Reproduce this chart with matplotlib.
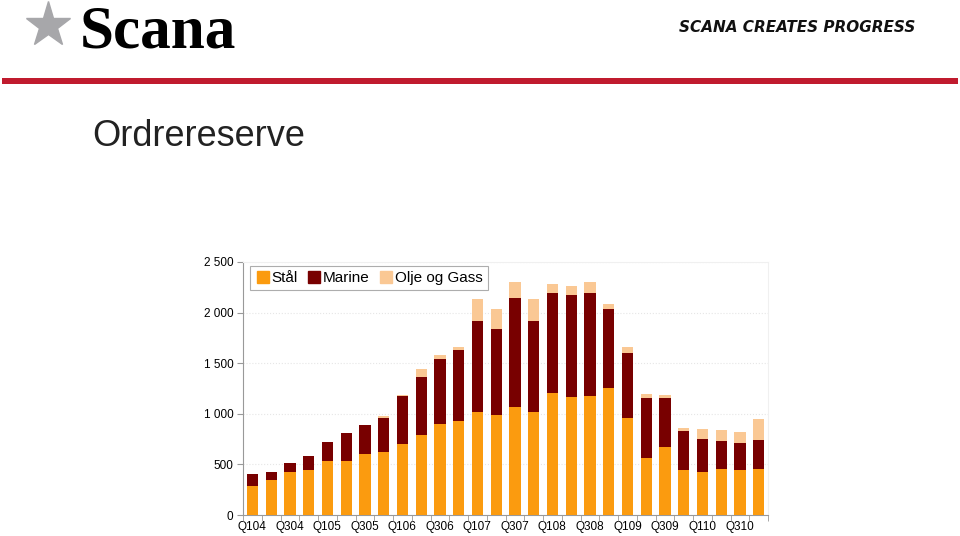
import numpy as np
import matplotlib.pyplot as plt
from matplotlib.lines import Line2D
from matplotlib.patches import Rectangle
from matplotlib.ticker import FuncFormatter, FixedLocator

# kvartaler Q1 04 .. Q4 10
quarters = [f"Q{q}{y:02d}" for y in range(4, 11) for q in range(1, 5)]
tick_labels = [lab if i % 2 == 0 else "" for i, lab in enumerate(quarters)]

# Ordrereserve (MNOK), lest av bildet
staal = [287, 346, 425, 445, 534, 534, 603, 623, 702, 790, 899, 926, 1014, 988,
         1064, 1014, 1202, 1163, 1176, 1255, 955, 563, 669, 445, 425, 458, 445, 458]
marine = [115, 79, 89, 138, 187, 276, 283, 339, 474, 570, 639, 701, 906, 853,
          1084, 906, 995, 1014, 1021, 784, 649, 590, 484, 385, 323, 270, 266, 283]
olje_gass = [0, 0, 0, 0, 0, 0, 0, 16, 6, 79, 40, 36, 218, 198,
             158, 218, 82, 86, 109, 49, 59, 46, 29, 26, 99, 109, 109, 204]

col_staal = "#FB9B0F"
col_marine = "#780000"
col_olje = "#FAC894"

fig = plt.figure(figsize=(9.6, 5.36), dpi=100)
ax = fig.add_axes([243 / 960, 1 - 515 / 536, 525 / 960, 253 / 536])

x = np.arange(len(quarters))
staal = np.array(staal)
marine = np.array(marine)
olje_gass = np.array(olje_gass)
w = 0.6
ax.bar(x, staal, w, color=col_staal, label="Stål", zorder=3)
ax.bar(x, marine, w, bottom=staal, color=col_marine, label="Marine", zorder=3)
ax.bar(x, olje_gass, w, bottom=staal + marine, color=col_olje,
       label="Olje og Gass", zorder=3)

ax.set_xlim(-0.5, len(quarters) - 0.5)
ax.set_ylim(0, 2500)
ax.set_yticks(np.arange(0, 2501, 500))
ax.yaxis.set_major_formatter(FuncFormatter(
    lambda v, p: f"{int(v):,}".replace(",", " ")))
ax.set_xticks(x)
ax.set_xticklabels(tick_labels)
ax.xaxis.set_minor_locator(FixedLocator(np.arange(-0.5, len(quarters), 1)))
ax.tick_params(axis="x", which="major", length=0, pad=4)
ax.tick_params(axis="x", which="minor", length=4, color="#999999")
ax.tick_params(axis="y", length=4, color="#999999", pad=3)
for lab in ax.get_xticklabels() + ax.get_yticklabels():
    lab.set_fontsize(8.5)
    lab.set_fontfamily("Liberation Sans")

ax.grid(axis="y", color="#e6e6e6", linestyle=":", linewidth=0.8, zorder=0)
for side in ["top", "right"]:
    ax.spines[side].set_color("#f0f0f0")
ax.spines["left"].set_color("#999999")
ax.spines["bottom"].set_color("#999999")

handles = [Line2D([], [], marker="s", linestyle="", markersize=9, color=c)
           for c in (col_staal, col_marine, col_olje)]
leg = ax.legend(handles, ["Stål", "Marine", "Olje og Gass"], loc="upper left",
                ncol=3, frameon=True, fancybox=False, edgecolor="#999999",
                handletextpad=0.05, columnspacing=0.6, borderpad=0.35,
                handlelength=1.0, borderaxespad=0.0,
                bbox_to_anchor=(0.013, 0.985),
                prop={"family": "Liberation Sans", "size": 11})
leg.get_frame().set_linewidth(0.8)

# topptekst
fig.add_artist(Line2D([48 / 960], [1 - 25 / 536], marker="*", markersize=34,
                      color="#A7A7AA", linestyle="", transform=fig.transFigure))
fig.text(80 / 960, 1 - 47 / 536, "Scana", fontsize=44, fontweight="bold",
         family="Liberation Serif", ha="left", va="baseline", color="black")
fig.text(915 / 960, 1 - 27 / 536, "SCANA CREATES PROGRESS", fontsize=11,
         fontweight="bold", fontstyle="italic", family="DejaVu Sans",
         ha="right", va="center", color="#111111")
fig.add_artist(Rectangle((2 / 960, 1 - 84 / 536), 956 / 960, 6 / 536,
                         transform=fig.transFigure, color="#C01B2E", lw=0))
fig.text(92 / 960, 1 - 137 / 536, "Ordrereserve", fontsize=26,
         family="Liberation Sans", ha="left", va="center", color="#222222")

fig.savefig("out.png", dpi=100)
